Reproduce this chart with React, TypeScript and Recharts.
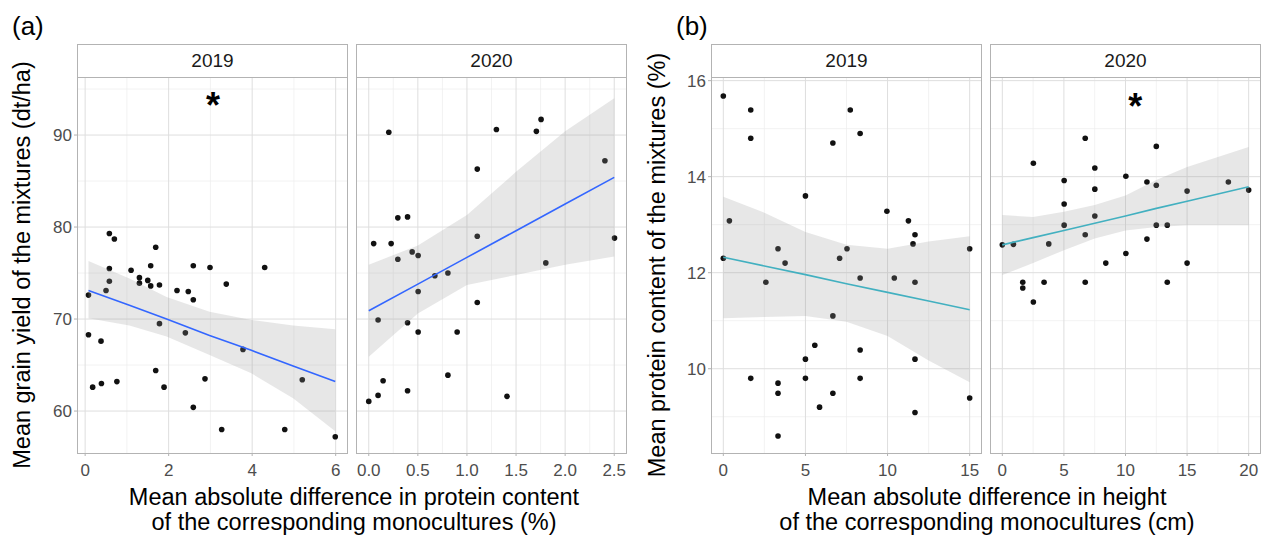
import React from "react";
import { ComposedChart, Scatter, Line, Area, XAxis, YAxis, CartesianGrid } from "recharts";

const FONT = "'Liberation Sans', Arial, Helvetica, sans-serif";
const GRID = "#dedede";
const MINOR = "#ededed";
const BORDER = "#b3b3b3";

// (a) grain yield vs protein difference, 2019
const yield19X = [0.08, 0.08, 0.18, 0.38, 0.39, 0.5, 0.58, 0.58, 0.58, 0.7, 0.76, 1.1, 1.3, 1.3, 1.5, 1.57, 1.57, 1.69, 1.78, 1.78, 1.69, 1.89, 2.2, 2.4, 2.47, 2.59, 2.59, 2.59, 2.87, 2.99, 3.27, 3.38, 3.78, 4.3, 4.78, 5.2, 5.99];
const yield19Y = [72.6, 68.3, 62.6, 67.6, 63.0, 73.1, 74.1, 75.5, 79.3, 78.7, 63.2, 75.3, 74.5, 73.9, 74.2, 75.8, 73.6, 77.8, 73.7, 69.5, 64.4, 62.6, 73.1, 68.5, 73.0, 72.1, 75.8, 60.4, 63.5, 75.6, 58.0, 73.8, 66.7, 75.6, 58.0, 63.4, 57.2];
const yield19BandX = [0.08, 1.06, 1.95, 2.98, 3.98, 4.98, 5.99];
const yield19Lo = [70.1, 69.3, 68.1, 66.1, 64.1, 61.4, 57.8];
const yield19Hi = [76.3, 74.4, 72.4, 70.8, 69.9, 69.3, 68.9];
const yield19Fit = [73.1, 71.5, 70.0, 68.2, 66.6, 64.9, 63.2];

// (a) 2020
const yield20X = [0.0, 0.05, 0.095, 0.095, 0.146, 0.204, 0.228, 0.296, 0.296, 0.395, 0.395, 0.395, 0.442, 0.503, 0.503, 0.503, 0.673, 0.806, 0.806, 0.9, 1.105, 1.105, 1.105, 1.3, 1.408, 1.707, 1.755, 1.803, 2.405, 2.503];
const yield20Y = [61.05, 78.2, 69.9, 61.7, 63.3, 90.3, 78.2, 81.0, 76.5, 81.1, 69.6, 62.2, 77.3, 76.9, 73.0, 68.6, 74.7, 75.0, 63.9, 68.6, 86.3, 79.0, 71.8, 90.6, 61.6, 90.4, 91.7, 76.1, 87.2, 78.8];
const yield20BandX = [0, 0.5, 1.0, 1.5, 2.0, 2.5];
const yield20Lo = [65.9, 70.6, 73.7, 74.8, 75.9, 76.8];
const yield20Hi = [75.9, 78.0, 81.3, 86.0, 90.4, 94.0];
const yield20Fit = [70.9, 73.8, 76.7, 79.6, 82.5, 85.4];

// (b) protein content vs height difference, 2019
const prot19X = [0, 0.37, 0, 1.67, 1.67, 1.67, 2.59, 3.33, 3.76, 3.33, 3.33, 3.33, 5, 5, 5, 5.57, 5.86, 6.67, 6.67, 6.67, 7.08, 7.53, 7.73, 8.33, 8.33, 8.33, 8.33, 9.96, 10.41, 11.27, 11.55, 11.67, 11.67, 11.67, 11.67, 15, 15];
const prot19Y = [15.68, 13.08, 12.3, 15.39, 14.8, 9.8, 11.8, 12.5, 12.2, 9.7, 9.49, 8.6, 13.6, 10.2, 9.8, 10.49, 9.2, 14.7, 11.1, 9.49, 12.3, 12.5, 15.39, 14.9, 11.89, 10.39, 9.8, 13.28, 11.89, 13.08, 12.6, 12.79, 11.8, 10.2, 9.09, 12.5, 9.39];
const prot19BandX = [0, 2.5, 5, 7.5, 10, 12.5, 15];
const prot19Lo = [11.05, 11.08, 11.1, 10.98, 10.68, 10.17, 9.72];
const prot19Hi = [13.58, 13.25, 12.85, 12.58, 12.5, 12.65, 12.76];
const prot19Fit = [12.32, 12.14, 11.96, 11.77, 11.59, 11.41, 11.23];

// (b) 2020
const prot20X = [0, 0.9, 1.66, 1.66, 2.52, 2.52, 3.39, 3.77, 5.02, 5.02, 5.02, 6.73, 6.73, 6.73, 7.51, 7.51, 7.51, 8.4, 10.03, 10.03, 11.74, 11.74, 12.5, 12.5, 12.5, 13.39, 13.39, 15.0, 15.0, 18.35, 20.0];
const prot20Y = [12.58, 12.59, 11.8, 11.68, 14.28, 11.39, 11.8, 12.6, 13.92, 13.43, 12.99, 14.8, 12.79, 11.8, 14.18, 13.74, 13.18, 12.2, 14.01, 12.4, 13.89, 12.7, 14.63, 13.82, 12.99, 12.99, 11.8, 13.7, 12.2, 13.89, 13.72];
const prot20BandX = [0, 2.5, 5, 7.5, 10, 12.5, 15, 20];
const prot20Lo = [11.95, 12.2, 12.47, 12.71, 12.88, 12.95, 12.99, 12.99];
const prot20Hi = [13.2, 13.16, 13.27, 13.41, 13.61, 13.93, 14.2, 14.62];
const prot20Fit = [12.58, 12.73, 12.88, 13.03, 13.18, 13.34, 13.49, 13.79];

const yieldTicks = [60, 70, 80, 90];
const yieldMinor = [65, 75, 85, 95];
const protTicks = [10, 12, 14, 16];
const protMinor = [9, 11, 13, 15];

const TOP = 78;
const PH = 375;
const YW = 60;
const PAD = 12;

function Dot(props: any) {
  const { cx, cy } = props;
  if (cx == null || cy == null) return null;
  return <circle cx={cx} cy={cy} r={2.8} fill="#111" />;
}

function Star(props: any) {
  const { cx, cy } = props;
  if (cx == null || cy == null) return null;
  return (
    <text x={cx} y={cy + 20} textAnchor="middle" fontSize={36} fontWeight="bold" fontFamily={FONT} fill="#000">
      *
    </text>
  );
}

interface PanelProps {
  left: number;
  width: number;
  year: string;
  xs: number[];
  ys: number[];
  bandX: number[];
  lo: number[];
  hi: number[];
  fit: number[];
  xDomain: [number, number];
  xTicks: number[];
  xMinor: number[];
  yDomain: [number, number];
  yTicks: number[];
  yMinor: number[];
  color: string;
  showY: boolean;
  star?: { x: number; y: number };
  fmt?: (v: number) => string;
}

function Panel(p: PanelProps) {
  const points = p.xs.map((x, i) => ({ x, y: p.ys[i] }));
  const band = p.bandX.map((x, i) => ({ x, range: [p.lo[i], p.hi[i]], fit: p.fit[i] }));
  const yw = p.showY ? YW : 0;
  const tick = { fill: "#4d4d4d", fontSize: 17, fontFamily: FONT };
  return (
    <>
      <div
        style={{
          position: "absolute", left: p.left, top: 44, width: p.width, height: 34,
          boxSizing: "border-box", border: `1px solid ${BORDER}`, background: "#fff",
          display: "flex", alignItems: "center", justifyContent: "center",
          fontFamily: FONT, fontSize: 19, color: "#1a1a1a",
        }}
      >
        {p.year}
      </div>
      <div style={{ position: "absolute", left: p.left - yw, top: TOP - PAD }}>
        <ComposedChart
          width={yw + p.width}
          height={PH + 32 + PAD}
          data={band}
          margin={{ top: PAD, right: 0, bottom: 0, left: 0 }}
        >
          <CartesianGrid stroke={MINOR} strokeWidth={0.7} horizontalValues={p.yMinor} verticalValues={p.xMinor} />
          <CartesianGrid stroke={GRID} strokeWidth={1} horizontalValues={p.yTicks} verticalValues={p.xTicks} />
          <XAxis
            type="number" dataKey="x" domain={p.xDomain} ticks={p.xTicks} interval={0} allowDataOverflow
            axisLine={false} tickSize={3} tickMargin={8} height={32} stroke={BORDER} tick={tick} tickFormatter={p.fmt}
          />
          <YAxis
            type="number" domain={p.yDomain} ticks={p.yTicks} interval={0} allowDataOverflow hide={!p.showY}
            width={YW} axisLine={false} tickSize={3} tickMargin={2} stroke={BORDER} tick={tick}
          />
          <Scatter data={points} dataKey="y" shape={Dot} isAnimationActive={false} zIndex={50} />
          <Area
            type="linear" dataKey="range" stroke="none" fill="#999999" fillOpacity={0.24}
            isAnimationActive={false} zIndex={700}
          />
          <Line type="linear" dataKey="fit" stroke={p.color} strokeWidth={1.6} dot={false} isAnimationActive={false} zIndex={800} />
          {p.star && <Scatter data={[p.star]} dataKey="y" shape={Star} isAnimationActive={false} />}
        </ComposedChart>
      </div>
      <div
        style={{
          position: "absolute", left: p.left, top: TOP - 1, width: p.width, height: PH + 2,
          boxSizing: "border-box", border: `1px solid ${BORDER}`, pointerEvents: "none",
        }}
      />
    </>
  );
}

const title: React.CSSProperties = {
  position: "absolute", fontFamily: FONT, fontSize: 23.5, color: "#000", whiteSpace: "nowrap",
};

export default function App() {
  return (
    <div style={{ position: "absolute", left: 0, top: 0, width: 1263, height: 544, background: "#fff", overflow: "hidden" }}>
      <div style={{ ...title, left: 12, top: 11, fontSize: 26 }}>(a)</div>
      <div style={{ ...title, left: 676, top: 11, fontSize: 26 }}>(b)</div>

      <Panel
        left={77} width={271} year="2019" xs={yield19X} ys={yield19Y}
        bandX={yield19BandX} lo={yield19Lo} hi={yield19Hi} fit={yield19Fit}
        xDomain={[-0.195, 6.295]} xTicks={[0, 2, 4, 6]} xMinor={[1, 3, 5]}
        yDomain={[55.44, 96.2]} yTicks={yieldTicks} yMinor={yieldMinor}
        color="#3366FF" showY star={{ x: 3.06, y: 94.0 }}
      />
      <Panel
        left={356} width={271} year="2020" xs={yield20X} ys={yield20Y}
        bandX={yield20BandX} lo={yield20Lo} hi={yield20Hi} fit={yield20Fit}
        xDomain={[-0.13, 2.63]} xTicks={[0, 0.5, 1, 1.5, 2, 2.5]} xMinor={[0.25, 0.75, 1.25, 1.75, 2.25]}
        yDomain={[55.44, 96.2]} yTicks={yieldTicks} yMinor={yieldMinor}
        color="#3366FF" showY={false} fmt={(v) => v.toFixed(1)}
      />
      <Panel
        left={711} width={271} year="2019" xs={prot19X} ys={prot19Y}
        bandX={prot19BandX} lo={prot19Lo} hi={prot19Hi} fit={prot19Fit}
        xDomain={[-0.75, 15.75]} xTicks={[0, 5, 10, 15]} xMinor={[2.5, 7.5, 12.5]}
        yDomain={[8.245, 16.055]} yTicks={protTicks} yMinor={protMinor}
        color="#42B0C0" showY
      />
      <Panel
        left={990} width={271} year="2020" xs={prot20X} ys={prot20Y}
        bandX={prot20BandX} lo={prot20Lo} hi={prot20Hi} fit={prot20Fit}
        xDomain={[-1, 21]} xTicks={[0, 5, 10, 15, 20]} xMinor={[2.5, 7.5, 12.5, 17.5]}
        yDomain={[8.245, 16.055]} yTicks={protTicks} yMinor={protMinor}
        color="#42B0C0" showY={false} star={{ x: 10.8, y: 15.62 }}
      />

      <div style={{ ...title, left: 22, top: 265, transform: "translate(-50%, -50%) rotate(-90deg)" }}>
        Mean grain yield of the mixtures (dt/ha)
      </div>
      <div style={{ ...title, left: 657, top: 265, transform: "translate(-50%, -50%) rotate(-90deg)" }}>
        Mean protein content of the mixtures (%)
      </div>
      <div style={{ ...title, left: 354, top: 485, transform: "translateX(-50%)", textAlign: "center", lineHeight: "25px" }}>
        Mean absolute difference in protein content
        <br />
        of the corresponding monocultures (%)
      </div>
      <div style={{ ...title, left: 987, top: 485, transform: "translateX(-50%)", textAlign: "center", lineHeight: "25px" }}>
        Mean absolute difference in height
        <br />
        of the corresponding monocultures (cm)
      </div>
    </div>
  );
}
